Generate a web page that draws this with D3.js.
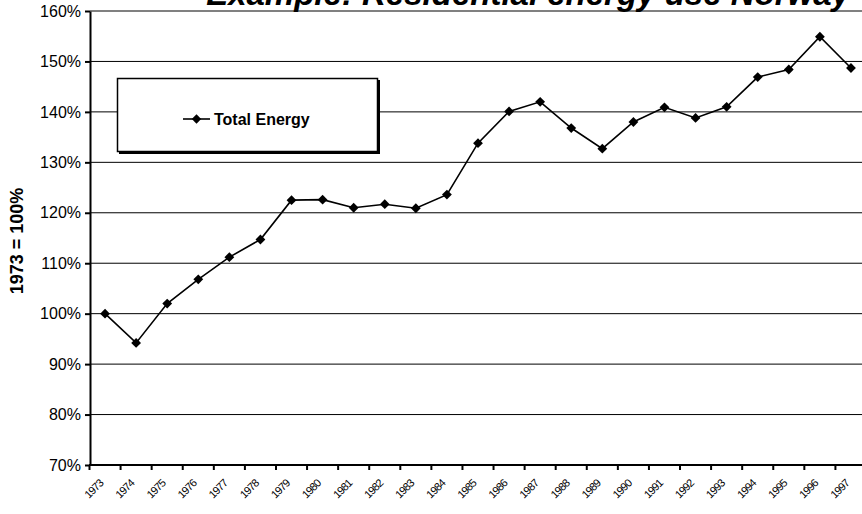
<!DOCTYPE html>
<html>
<head>
<meta charset="utf-8">
<script src="https://cdn.jsdelivr.net/npm/d3@7"></script>
<style>
  html, body { margin: 0; padding: 0; background: #fff; }
  svg { display: block; font-family: Arial, "Liberation Sans", sans-serif; }
</style>
</head>
<body>
<svg id="chart" width="862" height="514"></svg>
<script>
const years = ["1973","1974","1975","1976","1977","1978","1979","1980","1981","1982","1983","1984","1985",
               "1986","1987","1988","1989","1990","1991","1992","1993","1994","1995","1996","1997"];
const totalEnergy = [100.0, 94.2, 102.0, 106.8, 111.2, 114.7, 122.5, 122.6, 121.0, 121.7, 120.9, 123.6, 133.8,
                     140.1, 142.0, 136.8, 132.7, 138.0, 140.9, 138.8, 141.0, 146.9, 148.4, 154.9, 148.7];
const yTicks = [70, 80, 90, 100, 110, 120, 130, 140, 150, 160];
const seriesName = "Total Energy";
const titleText = "Example: Residential energy use Norway";
const yAxisTitle = "1973 = 100%";

const plotLeft = 90, plotTop = 11, plotBottom = 465, plotRight = 862;

const svg = d3.select("#chart");

const x = d3.scaleBand().domain(years).range([89.5, 866.5]).paddingInner(0).paddingOuter(0);
const y = d3.scaleLinear().domain([70, 160]).range([plotBottom, plotTop]);

// gridlines
svg.append("g").selectAll("line").data(yTicks.filter(t => t > 70 && t < 160)).join("line")
  .attr("x1", plotLeft).attr("x2", plotRight)
  .attr("y1", d => y(d)).attr("y2", d => y(d))
  .attr("stroke", "#000").attr("stroke-width", 1);

// top border (gray)
svg.append("line").attr("x1", plotLeft).attr("x2", plotRight)
  .attr("y1", y(160)).attr("y2", y(160))
  .attr("stroke", "#808080").attr("stroke-width", 2);

// y axis
const yAxis = d3.axisLeft(y).tickValues(yTicks).tickFormat(d => d + "%").tickSize(5).tickSizeOuter(0);
const gy = svg.append("g").attr("transform", `translate(${plotLeft},0)`).call(yAxis);
gy.select(".domain").attr("stroke", "#000").attr("stroke-width", 2);
gy.selectAll(".tick line").attr("stroke", "#000").attr("stroke-width", 2);
gy.selectAll(".tick text").attr("font-size", 16).attr("fill", "#000").attr("x", -9)
  .attr("font-family", "Arial, 'Liberation Sans', sans-serif");

// x axis
const xAxis = d3.axisBottom(x).tickSize(0).tickFormat(d => d);
const gx = svg.append("g").attr("transform", `translate(0,${plotBottom})`).call(xAxis);
gx.select(".domain").remove();
svg.append("line").attr("x1", plotLeft - 1).attr("x2", plotRight).attr("y1", plotBottom).attr("y2", plotBottom)
  .attr("stroke", "#000").attr("stroke-width", 2);
// tick marks at category boundaries
svg.append("g").selectAll("line").data(years).join("line")
  .attr("x1", d => x(d)).attr("x2", d => x(d))
  .attr("y1", plotBottom).attr("y2", plotBottom + 5)
  .attr("stroke", "#000").attr("stroke-width", 2);
gx.selectAll(".tick text")
  .attr("font-size", 11).attr("fill", "#000")
  .attr("font-family", "Arial, 'Liberation Sans', sans-serif")
  .attr("text-anchor", "end")
  .attr("letter-spacing", -0.8)
  .attr("dy", null).attr("y", 0)
  .attr("transform", "translate(-1,19) rotate(-45)");

// line
const line = d3.line().x((d, i) => x(years[i]) + x.bandwidth() / 2).y(d => y(d));
svg.append("path").datum(totalEnergy).attr("d", line)
  .attr("fill", "none").attr("stroke", "#000").attr("stroke-width", 1.6);

svg.append("g").selectAll("path").data(totalEnergy).join("path")
  .attr("d", d3.symbol().type(d3.symbolSquare).size(48))
  .attr("transform", (d, i) => `translate(${x(years[i]) + x.bandwidth() / 2},${y(d)}) rotate(45)`)
  .attr("fill", "#000");

// legend
const lg = svg.append("g");
lg.append("rect").attr("x", 119).attr("y", 80).attr("width", 261).attr("height", 74).attr("fill", "#000");
lg.append("rect").attr("x", 117.5).attr("y", 78.5).attr("width", 260).attr("height", 73)
  .attr("fill", "#fff").attr("stroke", "#000").attr("stroke-width", 1.5);
lg.append("line").attr("x1", 183).attr("x2", 210).attr("y1", 119).attr("y2", 119)
  .attr("stroke", "#000").attr("stroke-width", 1.6);
lg.append("path").attr("d", d3.symbol().type(d3.symbolSquare).size(44))
  .attr("transform", "translate(196.5,119) rotate(45)").attr("fill", "#000");
lg.append("text").attr("x", 214).attr("y", 125).attr("font-size", 16).attr("font-weight", "bold")
  .attr("fill", "#000").text(seriesName);

// y axis title
svg.append("text").attr("transform", "translate(23,241) rotate(-90)")
  .attr("text-anchor", "middle").attr("font-size", 18).attr("font-weight", "bold")
  .attr("fill", "#000").text(yAxisTitle);

// title
svg.append("text").attr("x", 528).attr("y", 5).attr("text-anchor", "middle")
  .attr("font-size", 33).attr("font-weight", "bold").attr("font-style", "italic")
  .attr("fill", "#000").text(titleText);
</script>
</body>
</html>
